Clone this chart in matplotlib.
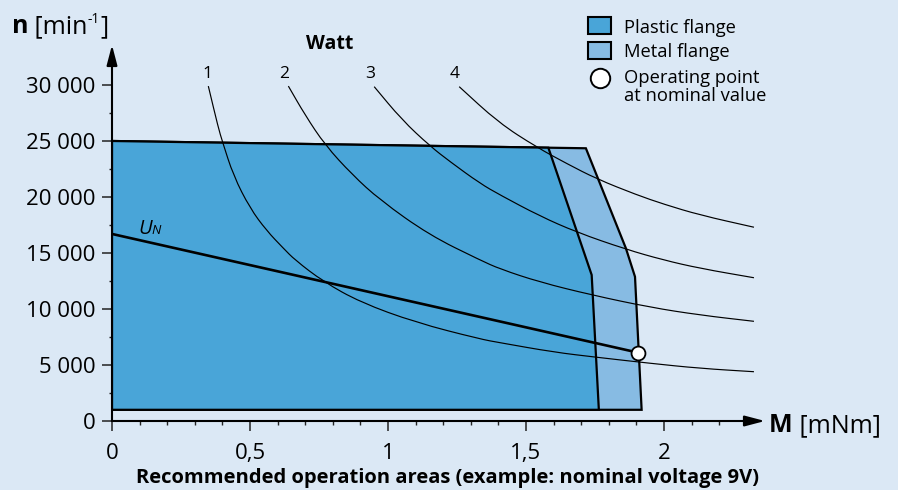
import matplotlib
matplotlib.use('Agg')
import numpy as np
import matplotlib.pyplot as plt
from matplotlib.patches import Polygon, Rectangle, PathPatch
from matplotlib.path import Path
from matplotlib.lines import Line2D

plt.rcParams['font.family'] = ['Open Sans', 'DejaVu Sans']

# ---------------- data ----------------
x_ticks = [0, 0.5, 1, 1.5, 2]
x_labels = ['0', '0,5', '1', '1,5', '2']
y_ticks = [0, 5000, 10000, 15000, 20000, 25000, 30000]
y_labels = ['0', '5 000', '10 000', '15 000', '20 000', '25 000', '30 000']

plastic_M = [0, 0, 1.581, 1.738, 1.764]
plastic_n = [1000, 25000, 24400, 13040, 1000]
metal_M = [0, 0, 1.717, 1.862, 1.895, 1.919]
metal_n = [1000, 25000, 24350, 15420, 12880, 1000]

un_M = [0, 1.907]
un_n = [16700, 6100]
op_M = [1.907]
op_n = [6100]

w1_M = [0.349, 0.385, 0.400, 0.440, 0.500, 0.560, 0.621, 0.663, 0.766, 0.900, 1.100, 1.333, 1.406, 1.600, 1.756, 1.950, 2.130, 2.326]
w1_n = [29900, 26200, 24950, 21900, 19000, 17000, 15420, 14375, 12440, 10600, 8800, 7320, 6990, 6150, 5690, 5150, 4700, 4400]
w2_M = [0.639, 0.700, 0.772, 0.870, 0.971, 1.150, 1.333, 1.406, 1.550, 1.738, 1.950, 2.130, 2.326]
w2_n = [29900, 27300, 24640, 22000, 19730, 16600, 14375, 13570, 12400, 11250, 10150, 9460, 8900]
w3_M = [0.950, 1.050, 1.152, 1.225, 1.333, 1.406, 1.550, 1.684, 1.862, 1.998, 2.130, 2.326]
w3_n = [29850, 26900, 24550, 23150, 21220, 20180, 18300, 16850, 15330, 14375, 13630, 12790]
w4_M = [1.258, 1.400, 1.539, 1.650, 1.756, 1.900, 2.000, 2.130, 2.326]
w4_n = [29850, 26650, 24440, 22950, 21620, 20200, 19350, 18390, 17300]
watt_labels = ['1', '2', '3', '4']

BG = '#dbe8f5'
PLASTIC = '#49a5d8'
METAL = '#87bbe3'

W, H = 898, 490


def fx(px):
    return px / W


def fy(py):
    return 1 - py / H


def smooth_path(xs, ys):
    """Quadratic-Bezier path using the read points as control points."""
    p = np.column_stack([xs, ys]).astype(float)
    verts = [p[0], (p[0] + p[1]) / 2]
    codes = [Path.MOVETO, Path.LINETO]
    for i in range(1, len(p) - 1):
        verts += [p[i], (p[i] + p[i + 1]) / 2]
        codes += [Path.CURVE3, Path.CURVE3]
    verts.append(p[-1])
    codes.append(Path.LINETO)
    return Path(verts, codes)


fig = plt.figure(figsize=(W / 100, H / 100), dpi=100)
fig.patch.set_facecolor(BG)
ax = fig.add_axes([fx(112), 69 / H, 653 / W, 376 / H])
ax.set_facecolor('none')
ax.set_xlim(0, 2.366)
ax.set_ylim(0, 33570)
for s in ax.spines.values():
    s.set_visible(False)

# areas
ax.add_patch(Polygon(np.column_stack([metal_M, metal_n]), closed=True,
                     fc=METAL, ec='k', lw=1.6, zorder=1, joinstyle='miter'))
ax.add_patch(Polygon(np.column_stack([plastic_M, plastic_n]), closed=True,
                     fc=PLASTIC, ec='k', lw=1.6, zorder=1.1, joinstyle='miter'))

# power curves
curves = [(w1_M, w1_n), (w2_M, w2_n), (w3_M, w3_n), (w4_M, w4_n)]
for m, n in curves:
    ax.add_patch(PathPatch(smooth_path(m, n), fill=False, ec='k', lw=0.85, zorder=2))

# U_N line and operating point
ax.plot(un_M, un_n, color='k', lw=1.9, zorder=3)
ax.plot(op_M, op_n, 'o', ms=10, mfc='white', mec='k', mew=1.3, zorder=4)

# axes arrows
for xy in [(1, 0), (0, 1)]:
    ax.annotate('', xy=xy, xytext=(0, 0), xycoords='axes fraction', textcoords='axes fraction',
                arrowprops=dict(arrowstyle='-|>,head_length=1.22,head_width=0.32', mutation_scale=10,
                                lw=1.5, color='k', shrinkA=0, shrinkB=0),
                annotation_clip=False, zorder=5)

# ticks
ax.set_xticks(x_ticks)
ax.set_xticklabels(x_labels)
ax.set_yticks(y_ticks)
ax.set_yticklabels(y_labels)
ax.set_xticks([v for v in np.round(np.arange(0.1, 2.25, 0.1), 2) if v not in x_ticks], minor=True)
ax.set_yticks([2500, 7500, 12500, 17500, 22500, 27500], minor=True)
ax.tick_params(which='major', direction='out', length=7, width=1.1, color='#222222', labelsize=16)
ax.tick_params(axis='x', which='major', pad=9)
ax.tick_params(axis='y', which='major', pad=5)
ax.tick_params(axis='x', which='minor', direction='out', length=3, width=1.0, color='#222222')
ax.tick_params(axis='y', which='minor', direction='out', length=2, width=1.0, color='#222222')

# curve labels
label_M = [0.344, 0.622, 0.936, 1.243]
for t, m in zip(watt_labels, label_M):
    ax.text(m, 30600, t, ha='center', va='baseline', fontsize=12.5, clip_on=False)
ax.text(0.703, 33190, 'Watt', ha='left', va='baseline', fontsize=14, fontweight='bold', clip_on=False)

# U_N label
ax.text(0.095, 16670, 'U', ha='left', va='baseline', fontsize=14.5, style='italic')
ax.text(0.143, 16670, 'N', ha='left', va='baseline', fontsize=9.5, style='italic')

# axis titles (pieces placed one after another)
renderer = fig.canvas.get_renderer()


def place_run(x_px, base_px, pieces):
    x = x_px
    for txt, size, weight, rise in pieces:
        t = fig.text(fx(x), fy(base_px - rise), txt, fontsize=size, fontweight=weight, va='baseline')
        bb = t.get_window_extent(renderer)
        x += bb.width


place_run(12, 33, [('n', 18, 'bold', 0), (' [min', 18, 'normal', 0), ('-1', 10, 'normal', 10),
                   (']', 18, 'normal', 0)])
place_run(769, 432, [('M', 18, 'bold', 0), (' [mNm]', 18, 'normal', 0)])

fig.text(fx(448), fy(483), 'Recommended operation areas (example: nominal voltage 9V)',
         fontsize=14.5, fontweight='bold', ha='center', va='baseline')

# legend
fig.add_artist(Rectangle((fx(587.7), fy(34.3)), 23 / W, 17 / H, transform=fig.transFigure,
                         fc=PLASTIC, ec='k', lw=1.5))
fig.add_artist(Rectangle((fx(587.7), fy(59.3)), 23 / W, 17.6 / H, transform=fig.transFigure,
                         fc=METAL, ec='k', lw=1.5))
fig.add_artist(Line2D([fx(600)], [fy(78.3)], marker='o', ms=14, mfc='white', mec='k', mew=1.4,
                      transform=fig.transFigure))
fig.text(fx(624), fy(32.7), 'Plastic flange', fontsize=13.2, va='baseline')
fig.text(fx(624), fy(57.3), 'Metal flange', fontsize=13.2, va='baseline')
fig.text(fx(624), fy(83.3), 'Operating point', fontsize=13.2, va='baseline')
fig.text(fx(624), fy(101), 'at nominal value', fontsize=13.2, va='baseline')

fig.savefig('out.png', dpi=100, facecolor=BG)
